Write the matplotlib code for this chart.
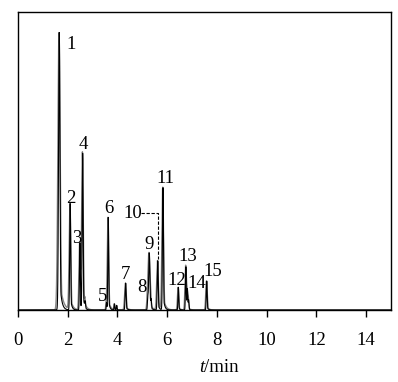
import numpy as np
import matplotlib
matplotlib.use("Agg")
import matplotlib.pyplot as plt

plt.rcParams['font.family'] = ['Liberation Serif', 'DejaVu Serif']

# Peak data (retention time in min, relative height)
peak_ids = ['1', '2', '3', '4', '5', '6', '7', '8', '9', '10', '11', '12', '13', '14', '15']
peak_rt = [1.66, 2.10, 2.49, 2.60, 3.56, 3.63, 4.33, 5.22, 5.28, 5.62, 5.83, 6.45, 6.75, 6.81, 7.59]
peak_h = [0.93, 0.356, 0.225, 0.523, 0.025, 0.31, 0.09, 0.04, 0.19, 0.165, 0.41, 0.076, 0.145, 0.067, 0.097]
peak_w = [0.035, 0.025, 0.022, 0.025, 0.015, 0.022, 0.025, 0.02, 0.03, 0.025, 0.025, 0.02, 0.02, 0.02, 0.022]
# minor unlabelled bumps
minor_rt = [2.70, 3.88, 3.97, 5.35, 6.86]
minor_h = [0.02, 0.02, 0.015, 0.03, 0.03]

xticks = [0, 2, 4, 6, 8, 10, 12, 14]

# label positions (layout only)
label_xy = {'1': (1.95, 0.89), '2': (1.95, 0.375), '3': (2.18, 0.24), '4': (2.45, 0.555),
            '5': (3.20, 0.045), '6': (3.45, 0.34), '7': (4.15, 0.12), '8': (4.80, 0.075),
            '9': (5.10, 0.22), '10': (4.25, 0.325), '11': (5.55, 0.44), '12': (6.00, 0.10),
            '13': (6.45, 0.18), '14': (6.80, 0.09), '15': (7.45, 0.13)}

t = np.linspace(0, 15, 6000)

def trace(shift=0.0, wscale=1.0):
    y = np.zeros_like(t)
    for rt, h, w in zip(peak_rt, peak_h, peak_w):
        ww = w * wscale
        g = np.exp(-0.5 * ((t - rt - shift) / ww) ** 2)
        tail = np.where(t > rt + shift, np.exp(-(t - rt - shift) / (ww * 2.5)), 0) * 0.15
        y += h * np.maximum(g, tail)
    for rt, h in zip(minor_rt, minor_h):
        y += h * np.exp(-0.5 * ((t - rt - shift) / 0.015) ** 2)
    return y

fig = plt.figure(figsize=(3.98, 3.82), dpi=100)
ax = fig.add_axes([0.0452, 0.1885, 0.9372, 0.7809])

ax.plot(t, trace(-0.01, 1.3), color='#888888', lw=1.0, zorder=2)
ax.plot(t, trace(0.0, 0.8), color='black', lw=0.8, zorder=3)

ax.set_xlim(0, 15)
ax.set_ylim(0, 1.0)
ax.set_yticks([])
ax.set_xticks(xticks)
ax.set_xticklabels([str(v) for v in xticks], fontsize=13.5)
ax.tick_params(axis='x', direction='out', length=5, width=1, pad=11)
for s in ax.spines.values():
    s.set_linewidth(1.0)

for pid in peak_ids:
    x, y = label_xy[pid]
    ax.text(x, y, pid, fontsize=13.5, ha='left', va='center')

# dashed leader for peak 10
ax.plot([4.95, 5.62, 5.62], [0.325, 0.325, 0.17], color='black', lw=0.8, ls=(0, (3, 1.5)))

fig.text(0.5138, 1 - 367 / 382, 't', fontsize=13.5, style='italic', ha='right', va='center')
fig.text(0.5138, 1 - 367 / 382, '/min', fontsize=13.5, ha='left', va='center')

fig.savefig('out.png', dpi=100)
